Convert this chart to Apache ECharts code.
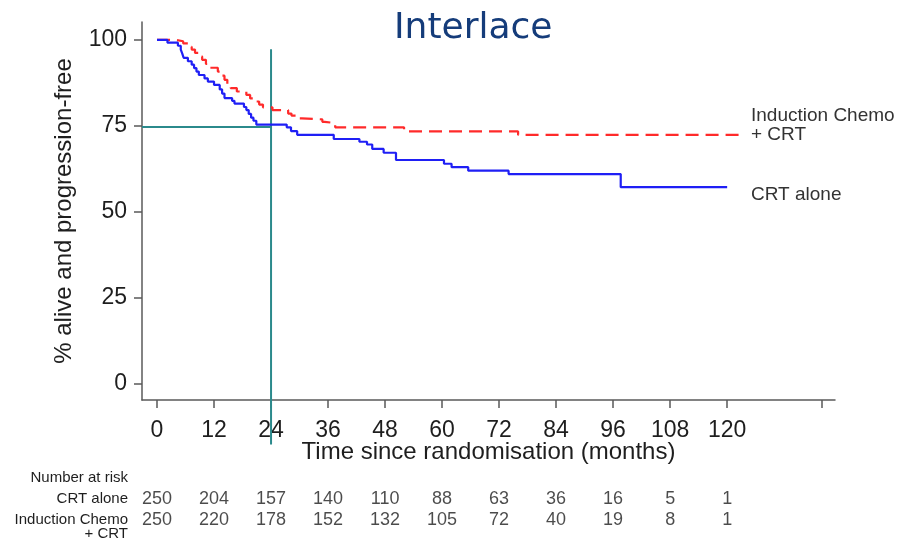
<!DOCTYPE html>
<html>
<head>
<meta charset="utf-8">
<script src="https://cdn.jsdelivr.net/npm/echarts@6/dist/echarts.min.js"></script>
<style>
  html, body { margin: 0; padding: 0; background: #fff; }
  #chart { width: 899px; height: 539px; }
</style>
</head>
<body>
<div id="chart"></div>
<script>
// ---- Data ----
const crtAloneKM = [
  [0,100],[2.2,99.2],[4.4,98.3],[5,97.2],[5.3,96.1],[5.6,94.8],[6.5,93.8],[7.3,92.8],
  [7.8,91.8],[8.3,90.8],[8.8,89.8],[10,88.8],[10.7,87.9],[12,86.9],[13.2,85.6],
  [13.7,84.4],[14.2,83.1],[15.8,82.3],[16.3,81.5],[18.3,80.5],[18.8,79.6],[19.3,78.5],
  [19.8,77.4],[20.3,76.5],[20.9,75.4],[27.3,74.6],[28.2,73.5],[29.5,72.4],[37.2,71.2],
  [42.6,70.4],[44.2,69.6],[45.3,68.3],[47.7,67.2],[50.3,65.1],[60.4,64],[62,63],
  [65.5,62],[74,61],[97.6,57.2],[120,57.2]
];
const inductionKM = [
  [0,100],[4,99.6],[5.5,99],[6.5,98],[7.3,97.2],[8,96.2],[8.8,95.2],[9.5,94.2],
  [10.3,93],[11.2,91.9],[12.8,90.8],[13.6,89.6],[14.2,88.4],[14.8,87.2],[15.5,86],
  [16.8,85],[18.8,84],[19.6,83],[20.5,82.1],[21.5,81.2],[22.3,80.4],[24.3,79.6],
  [27.6,78.6],[28.3,78],[29.8,77.2],[30.5,76.9],[34.8,76.2],[35.3,75.8],[37.5,74.6],
  [52,73.4],[76,72.4],[122.5,72.4]
];
const xTicks = [0,12,24,36,48,60,72,84,96,108,120,140];
const xLabels = [0,12,24,36,48,60,72,84,96,108,120];
const yTicks = [0,25,50,75,100];
const riskTimes = [0,12,24,36,48,60,72,84,96,108,120];
const riskCRT = [250,204,157,140,110,88,63,36,16,5,1];
const riskInd = [250,220,178,152,132,105,72,40,19,8,1];
const refTime = 24, refSurv = 74.7;
const refVTop = 97.3, refVBottom = -17.6;

const xMin = -3.16, xMax = 142.7, yMin = -4.65, yMax = 105.2;

const axisColor = '#5a5a5a';
const textColor = '#1e1e1e';
const FONT = '"Liberation Sans", Arial, sans-serif';

const chart = echarts.init(document.getElementById('chart'), null, {renderer: 'canvas'});

const riskSeries = (vals, row) => ({
  type: 'scatter', xAxisIndex: 1, yAxisIndex: 1, silent: true,
  symbol: 'circle', symbolSize: 1, itemStyle: {color: 'rgba(0,0,0,0)'},
  data: riskTimes.map((t, i) => [t, row, vals[i]]),
  label: {show: true, position: 'inside', formatter: p => String(p.value[2]),
          fontSize: 18, fontFamily: FONT, color: textColor}
});

chart.setOption({
  animation: false,
  backgroundColor: '#fff',
  title: {
    text: 'Interlace', left: 394, top: 11, padding: 0,
    textStyle: {fontFamily: '"DejaVu Sans", Verdana, sans-serif', fontSize: 36,
                fontWeight: 'normal', color: '#153C7A'}
  },
  grid: [
    {left: 142, right: 64, top: 22, bottom: 139},
    {left: 142, right: 64, top: 489, height: 42}
  ],
  xAxis: [{
    type: 'value', gridIndex: 0, min: xMin, max: xMax,
    name: 'Time since randomisation (months)', nameLocation: 'middle', nameGap: 40,
    nameMoveOverlap: false,
    nameTextStyle: {fontSize: 24, fontFamily: FONT, color: textColor},
    axisLine: {show: true, onZero: false, lineStyle: {color: axisColor, width: 1.5}},
    axisTick: {show: true, customValues: xTicks, length: 8, lineStyle: {color: axisColor, width: 1.5}},
    axisLabel: {customValues: xLabels, fontSize: 23, fontFamily: FONT, color: textColor, margin: 19},
    splitLine: {show: false}
  }, {
    type: 'value', gridIndex: 1, min: xMin, max: xMax, show: false
  }],
  yAxis: [{
    type: 'value', gridIndex: 0, min: yMin, max: yMax,
    name: '% alive and progression-free', nameLocation: 'middle', nameGap: 66,
    nameMoveOverlap: false,
    nameTextStyle: {fontSize: 24, fontFamily: FONT, color: textColor},
    axisLine: {show: true, onZero: false, lineStyle: {color: axisColor, width: 1.5}},
    axisTick: {show: true, customValues: yTicks, length: 8, lineStyle: {color: axisColor, width: 1.5}},
    axisLabel: {customValues: yTicks, fontSize: 23, fontFamily: FONT, color: textColor, margin: 15},
    splitLine: {show: false}
  }, {
    type: 'category', gridIndex: 1, data: [0, 1], inverse: true, show: false
  }],
  series: [
    {
      type: 'line', name: 'refH', silent: true, symbol: 'none', clip: false,
      data: [[xMin, refSurv], [refTime, refSurv]],
      lineStyle: {color: '#2B8A8C', width: 2}
    },
    {
      type: 'line', name: 'refV', silent: true, symbol: 'none', clip: false,
      data: [[refTime, refVTop], [refTime, refVBottom]],
      lineStyle: {color: '#2B8A8C', width: 2}, z: 1
    },
    {
      type: 'line', name: 'Induction Chemo + CRT', step: 'end', symbol: 'none',
      data: inductionKM,
      lineStyle: {color: '#FF2A2A', width: 2.2, type: [13, 7]}
    },
    {
      type: 'line', name: 'CRT alone', step: 'end', symbol: 'none',
      data: crtAloneKM,
      lineStyle: {color: '#1F1FF5', width: 2.2}
    },
    riskSeries(riskCRT, 0),
    riskSeries(riskInd, 1)
  ],
  graphic: [
    {type: 'text', left: 751, top: 106, style: {text: 'Induction Chemo\n+ CRT', font: '19px ' + FONT, fill: '#333', lineHeight: 19}},
    {type: 'text', left: 751, top: 185, style: {text: 'CRT alone', font: '19px ' + FONT, fill: '#333'}},
    {type: 'text', x: 128, y: 478, style: {text: 'Number at risk', font: '15px ' + FONT, fill: textColor, align: 'right', verticalAlign: 'middle'}},
    {type: 'text', x: 128, y: 499, style: {text: 'CRT alone', font: '15px ' + FONT, fill: textColor, align: 'right', verticalAlign: 'middle'}},
    {type: 'text', x: 128, y: 520, style: {text: 'Induction Chemo', font: '15px ' + FONT, fill: textColor, align: 'right', verticalAlign: 'middle'}},
    {type: 'text', x: 128, y: 534, style: {text: '+ CRT', font: '15px ' + FONT, fill: textColor, align: 'right', verticalAlign: 'middle'}}
  ]
});
</script>
</body>
</html>
